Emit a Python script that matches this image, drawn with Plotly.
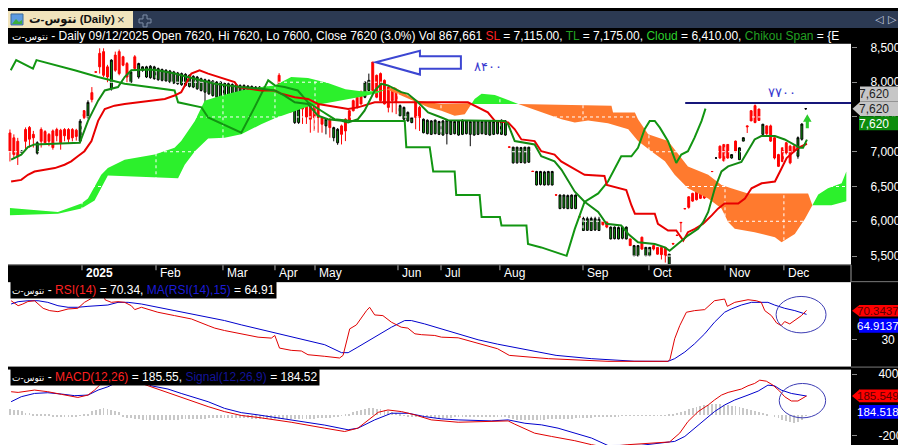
import plotly.graph_objects as go

W, H = 906, 445
FONT = "Liberation Sans, Arial, DejaVu Sans, sans-serif"

# ---------------- daily candles (trading-day index 0..204) ----------------
BAR_INDEX = list(range(205))
OPEN = [
    7270, 7200, 7150, 6990, 7320, 7350, 7250, 6980, 7320, 7290,
    7250, 7300, 7320, 7310, 7320, 7320, 7320, 7310, 7150, 7590,
    7490, 7850, 8150, 8415, 8440, 8221, 7905, 8390, 8440, 8366,
    8269, 8000, 8366, 8075, 8172,
    8075, 8065, 8051, 8036, 8027, 8017, 8002, 7988, 7978, 7964, 7954, 7939, 7930, 7905, 7881, 7857, 7833,
    7808, 7784, 7774, 7760, 7745, 7735, 7726, 7711, 7697, 7697, 7687, 7687, 7677, 7677, 7663, 7663, 7663,
    8099, 7881, 7740, 7881, 7420, 7420, 7784, 7700, 7784, 7711, 7687, 7493, 7372, 7468, 7202, 7129, 7372,
    7468, 7590, 7735, 7784, 7857, 7784, 7881, 8290, 8099, 8124, 8027, 7930, 7881, 7881, 7517, 7468, 7444,
    7420, 7735, 7638,
    7274, 7260, 7250, 7260, 7250, 7240, 7260, 7250, 7260, 7240, 7250, 7260, 7250, 7240, 7250, 7260, 7250,
    7240, 7250, 7260, 7250, 7240,
    7070, 6840, 6840, 6845, 6840, 6850, 6720, 6522, 6530, 6522, 6525, 6522, 6380, 6182, 6190, 6182, 6185,
    6182, 6065, 5867, 5870, 5867, 5875, 5867, 5995, 5989, 5746, 5750, 5746, 5755, 5746,
    5746, 5503, 5503, 5770, 5503, 5503, 5650, 5624, 5624, 5624, 5380, 5680, 5800, 5989, 6182, 6352, 6401,
    6449, 6474, 6474, 6522, 6716, 6910, 7080, 7105, 7105, 6910, 7153, 6886, 7153, 7372, 7590, 7663, 7614,
    7250, 7372, 7372, 7202, 6959, 7056, 7129, 7080, 7080, 6935, 7180, 7620,
]
HIGH = [
    7320, 7250, 7200, 7020, 7350, 7370, 7300, 7150, 7350, 7310,
    7270, 7320, 7345, 7330, 7340, 7340, 7340, 7330, 7470, 7600,
    7740, 7930, 8150, 8488, 8488, 8250, 8330, 8440, 8470, 8380,
    8290, 8160, 8390, 8280, 8230,
    8236, 8245, 8236, 8211, 8197, 8187, 8177, 8163, 8148, 8139, 8129, 8114, 8100, 8090, 8066, 8051, 8042,
    8032, 8017, 8017, 8003, 7993, 7983, 7979, 7969, 7969, 7959, 7954, 7945, 7945, 7935, 7935, 7920, 7920,
    8130, 7900, 7830, 7900, 7660, 7640, 7800, 7750, 7800, 7730, 7700, 7510, 7480, 7480, 7360, 7340, 7390,
    7480, 7600, 7750, 7800, 7880, 8010, 8124, 8290, 8110, 8140, 8040, 7950, 7900, 7900, 7680, 7650, 7580,
    7500, 7750, 7660,
    7478, 7464, 7454, 7464, 7445, 7454, 7464, 7454, 7445, 7454, 7464, 7454, 7445, 7454, 7454, 7445, 7454,
    7454, 7445, 7454, 7464, 7454,
    7075, 7070, 7070, 7070, 7070, 7070, 6725, 6725, 6725, 6725, 6725, 6725, 6385, 6385, 6385, 6385, 6385,
    6385, 6070, 6065, 6065, 6065, 6065, 6065, 6000, 5995, 5925, 5925, 5925, 5925, 5925,
    5750, 5660, 5655, 5780, 5630, 5630, 5660, 5630, 5630, 5630, 5530, 5690, 5810, 5995, 6190, 6360, 6410,
    6460, 6480, 6480, 6530, 6720, 6915, 7090, 7110, 7110, 6965, 7160, 7060, 7205, 7380, 7600, 7680, 7620,
    7400, 7380, 7390, 7210, 6970, 7060, 7140, 7100, 7100, 7220, 7410, 7620,
]
LOW = [
    6860, 6900, 6810, 6990, 7010, 7060, 7060, 6960, 7060, 7100,
    7080, 7030, 7150, 7030, 7150, 7130, 7150, 7160, 7130, 7470,
    7480, 7710, 8140, 8124, 8075, 8000, 7880, 8150, 8100, 8230,
    8000, 7990, 8170, 8050, 8150,
    8060, 8050, 8036, 8021, 8012, 8002, 7987, 7973, 7963, 7949, 7939, 7924, 7915, 7890, 7866, 7687, 7818,
    7793, 7769, 7759, 7745, 7730, 7720, 7590, 7696, 7682, 7682, 7672, 7638, 7662, 7662, 7648, 7648, 7648,
    7760, 7660, 7700, 7560, 7400, 7400, 7400, 7400, 7274, 7299, 7274, 7274, 7250, 7202, 7150, 7100, 7105,
    7153, 7440, 7580, 7620, 7680, 7770, 7870, 7870, 7770, 7720, 7680, 7566, 7566, 7541, 7500, 7450, 7430,
    7410, 7323, 7299,
    7264, 7250, 7240, 7250, 7240, 7230, 7105, 7240, 7250, 7230, 7240, 7250, 7080, 7230, 7240, 7250, 7240,
    7230, 7240, 7250, 7240, 7230,
    7060, 6830, 6830, 6835, 6830, 6840, 6710, 6515, 6515, 6515, 6515, 6515, 6372, 6175, 6175, 6175, 6175,
    6175, 6055, 5860, 5860, 5860, 5860, 5860, 5940, 5900, 5740, 5740, 5740, 5740, 5740,
    5645, 5495, 5495, 5590, 5495, 5500, 5580, 5520, 5450, 5406, 5380, 5670, 5790, 5843, 6175, 6182, 6280,
    6300, 6320, 6320, 6515, 6710, 6905, 6900, 6860, 6900, 6900, 6990, 6880, 7150, 7270, 7440, 7410, 7444,
    7240, 7240, 7140, 6890, 6780, 6850, 6960, 6820, 6990, 6900, 7160, 7600,
]
CLOSE = [
    7010, 6960, 6930, 7010, 7150, 7180, 7200, 7130, 7150, 7130,
    7150, 7060, 7230, 7130, 7230, 7180, 7200, 7220, 7440, 7490,
    7710, 7750, 8145, 8221, 8100, 8075, 8318, 8172, 8124, 8245,
    8075, 8148, 8196, 8269, 8221,
    8221, 8230, 8221, 8196, 8182, 8172, 8162, 8148, 8133, 8124, 8114, 8099, 8085, 8075, 8051, 8036, 8027,
    8017, 8002, 8002, 7988, 7978, 7968, 7964, 7954, 7954, 7944, 7939, 7930, 7930, 7920, 7920, 7905, 7905,
    7833, 7711, 7800, 7687, 7640, 7615, 7614, 7500, 7468, 7493, 7493, 7396, 7468, 7347, 7347, 7323, 7250,
    7299, 7450, 7590, 7638, 7687, 8002, 8027, 7881, 7784, 7735, 7687, 7638, 7735, 7711, 7663, 7638, 7566,
    7493, 7493, 7493,
    7468, 7454, 7444, 7454, 7435, 7444, 7454, 7444, 7435, 7444, 7454, 7444, 7435, 7444, 7444, 7435, 7444,
    7444, 7435, 7444, 7454, 7444,
    7066, 7066, 7066, 7060, 7066, 7066, 6716, 6716, 6716, 6710, 6716, 6716, 6377, 6377, 6377, 6370, 6377,
    6377, 6061, 6040, 6037, 6040, 6037, 6030, 5950, 5916, 5916, 5916, 5910, 5916, 5916,
    5650, 5650, 5650, 5600, 5625, 5625, 5600, 5527, 5520, 5503, 5527, 5673, 5795, 5980, 6180, 6200, 6290,
    6310, 6330, 6335, 6520, 6715, 6910, 6910, 6870, 6910, 6959, 7008, 7056, 7202, 7360, 7444, 7420, 7450,
    7396, 7260, 7153, 6910, 6790, 6860, 6983, 6840, 7008, 7202, 7398, 7620,
]

# ---------------- Ichimoku lines, read at their vertices (bar index, price) ----------------
SL_PTS = [(0.3, 6571), (2.9, 6595), (4.6, 6668), (6.3, 6716), (8.9, 6741), (11.5, 6765), (14, 6813),
          (15.7, 6862), (17.4, 6935), (19.1, 7008), (20.9, 7153), (22.6, 7444), (24.3, 7614), (26.8, 7663),
          (29.4, 7687), (36.2, 7735), (39.7, 7760), (42.2, 7808), (43.9, 7857), (46.5, 8124), (48.6, 8172),
          (50.8, 8124), (57.6, 8002), (58.5, 7930), (64.4, 7881), (67.9, 7881), (69.6, 7833), (73, 7784),
          (76.4, 7760), (79, 7687), (81.5, 7663), (86.7, 7614), (89.2, 7638), (93.5, 7711), (117.4, 7711),
          (120, 7638), (122.5, 7566), (124.3, 7444), (127.7, 7420), (129.4, 7323), (131.1, 7177),
          (134.5, 7153), (136.2, 7008), (139.6, 6959), (141.3, 6862), (147.3, 6668), (152.4, 6650),
          (153, 6522), (158, 6449), (159.3, 6231), (160.2, 6110), (165.3, 6110), (166.1, 5964),
          (168.7, 5867), (170.8, 5867), (172.6, 5721), (173.8, 5843), (175.6, 5891), (177.7, 5964),
          (179.9, 6085), (181.5, 6182), (183.2, 6255), (186.7, 6255), (188.4, 6328), (190.1, 6474),
          (192.7, 6546), (196.1, 6571), (197.4, 6716), (199.1, 6910), (202.1, 7056), (204.3, 7115)]
TL_PTS = [(0.3, 6886), (2.9, 6959), (4.6, 7066), (6.3, 7105), (17.9, 7129), (20, 7444), (22.6, 7735),
          (24.3, 7881), (27.7, 7930), (29.4, 8075), (31.1, 8172), (35.4, 8182), (37.9, 8172), (42.2, 8124),
          (45.6, 8075), (49.1, 8027), (52.5, 7978), (55.9, 7954), (59.3, 7930), (64.4, 7905), (67.9, 7881),
          (70.4, 7808), (73, 7711), (76.4, 7687), (79, 7517), (81.5, 7468), (85, 7444), (86.7, 7420),
          (89.2, 7468), (90.9, 7590), (92.7, 7784), (93.5, 7881), (95.2, 7978), (96.9, 7954), (100.3, 7857),
          (102, 7833), (104.6, 7711), (107.2, 7566), (110.6, 7493), (112.3, 7454), (126.8, 7444),
          (127.7, 7396), (129.4, 7153), (134.5, 7105), (136.2, 6935), (139.6, 6862), (141.4, 6741),
          (144.8, 6425), (147.3, 6280), (150.8, 6134), (152.9, 5964), (156.7, 5940), (158.5, 5818),
          (161, 5697), (165.3, 5673), (167.9, 5624), (169.1, 5576), (171.3, 5673), (173.8, 5794),
          (176.4, 5891), (177.7, 5988), (179, 6134), (180.7, 6474), (182.4, 6716), (184.1, 6789),
          (187.5, 6852), (189.2, 7008), (190.9, 7177), (192.6, 7226), (196.1, 7226), (198.6, 7177),
          (200.3, 7129), (202.5, 7056), (203.3, 7056), (204.3, 7175)]
CHIKOU_PTS = [(0.2, 8172), (1.6, 8318), (5.9, 8196), (6.8, 8318), (16.6, 8172), (22.6, 8075), (29.4, 7978),
              (35.4, 7930), (42.2, 7881), (43.1, 7711), (49.1, 7638), (50.8, 7493), (59.3, 7274),
              (62.7, 7638), (66.2, 8027), (67.9, 7954), (70.4, 7930), (73.8, 7881), (76.4, 7711),
              (79.8, 7590), (83.2, 7468), (87.5, 7444), (101.2, 7444), (101.6, 7066), (107.6, 7066),
              (108.5, 6716), (114, 6716), (114.4, 6377), (120.4, 6377), (120.9, 6061), (125.6, 6061),
              (126, 5940), (132.4, 5940), (132.8, 5673), (136.2, 5624), (142.7, 5503), (144.8, 5891),
              (147.3, 6280), (150.8, 6401), (153.3, 6571), (156.7, 6935), (159.3, 6935), (161, 7056),
              (162.7, 7323), (164, 7444), (165.3, 7444), (166.6, 7347), (168.7, 7153), (170.8, 6838),
              (172.1, 6959), (173.8, 7008), (175.5, 7202), (177.3, 7444), (178.3, 7620)]

# cloud (senkou spans) segments: upper edge / lower edge
CLOUD_G1_TOP = [(0, 6192), (12.3, 6134), (18.3, 6255), (20, 6328), (23.4, 6668), (25.1, 6765), (29.4, 6886),
                (37.1, 6959), (42.2, 7056), (43.9, 7153), (47.4, 7444), (49.9, 7735), (54.2, 7808),
                (59.3, 7881), (64.4, 7930), (67.9, 7954), (72.1, 8075), (76.4, 8060), (81.5, 7990),
                (86, 7900), (90, 7870), (94, 7870), (96.5, 7900)]
CLOUD_G1_BOT = [(0, 6085), (12.3, 6110), (18.3, 6182), (21.7, 6300), (25.1, 6658), (37.1, 6629),
                (43.1, 6619), (44.8, 6813), (47.4, 7008), (50.8, 7192), (55, 7202), (59.3, 7250),
                (64.4, 7396), (67.9, 7483), (72.1, 7566), (76.4, 7650), (80, 7680), (85, 7740), (90, 7790),
                (94, 7840), (96.5, 7900)]
CLOUD_O1_TOP = [(96.5, 7900), (98.6, 7930), (102, 7808), (104.6, 7735), (110.6, 7687), (117.4, 7697),
                (118.3, 7687)]
CLOUD_O1_BOT = [(96.5, 7900), (100.3, 7810), (104.6, 7700), (107.2, 7640), (110.6, 7590), (114, 7517),
                (116.6, 7541), (118.3, 7687)]
CLOUD_G2_TOP = [(118.3, 7687), (119.1, 7760), (120.9, 7833), (124.3, 7818), (127.7, 7745), (130.3, 7687)]
CLOUD_G2_BOT = [(118.3, 7687), (130.3, 7687)]
CLOUD_O2_TOP = [(130.3, 7687), (154.2, 7663), (154.6, 7566), (160.2, 7566), (161, 7468), (163.6, 7250),
                (168.7, 7153), (171.3, 6959), (173.8, 6789), (179, 6668), (182.4, 6522), (184.9, 6474),
                (189.2, 6401), (204.6, 6401), (205.7, 6231)]
CLOUD_O2_BOT = [(130.3, 7687), (136.2, 7566), (141.4, 7468), (144.8, 7420), (148.2, 7450), (153.3, 7410),
                (158.5, 7323), (161, 7153), (164.4, 7008), (167.9, 6862), (170.4, 6668), (173.8, 6474),
                (179, 6328), (182.4, 6182), (184.1, 5988), (185.8, 5891), (190.9, 5843), (196.1, 5770),
                (197.8, 5697), (201.2, 5818), (203.8, 6037), (205.7, 6231)]
CLOUD_G3_TOP = [(205.7, 6231), (207.2, 6386), (209.7, 6474), (213.2, 6546), (214.4, 6716)]
CLOUD_G3_BOT = [(205.7, 6231), (210.6, 6231), (214.4, 6289)]

# ---------------- RSI(14) and MA(RSI,15) ----------------
RSI_PTS = [(0.3, 83.6), (2.1, 76.8), (3.3, 79.1), (4.6, 82.5), (6.3, 83.6), (7.6, 77.7), (8.5, 73.2),
           (10.2, 70), (12.3, 68.6), (14.9, 72.3), (17.4, 73.2), (19.1, 81.4), (20.9, 86.8), (22.6, 99),
           (23.8, 95), (24.4, 84.8), (26, 81.4), (27.7, 82.3), (29.4, 81.4), (31.1, 76.8), (32, 71.4),
           (33.7, 74.6), (37.9, 67.8), (42.2, 63.2), (46.5, 58.6), (50.8, 49.5), (52.5, 46), (55, 42.7),
           (59.3, 38.2), (63.6, 33.6), (67, 32.3), (67.9, 35.9), (69.1, 18.6), (72.1, 15.5), (74.7, 14.6),
           (76.4, 9.5), (80.7, 7.3), (84.5, 5), (85.4, 8.6), (87.1, 45), (88.8, 50.4), (90.1, 61),
           (91.4, 70), (92.2, 74.6), (93.5, 64.1), (95.6, 63.2), (97.8, 54.1), (100.3, 47.3), (102, 46),
           (103.8, 38.2), (105.5, 37), (108.9, 35.9), (110.6, 33.6), (114.9, 32.7), (120, 25), (125, 17.7),
           (128, 8.6), (138, 4.1), (153.3, 0.4), (168.7, 0.4), (169.2, 3.3), (170.4, 31.4), (171.7, 49.5),
           (173.4, 67.8), (175.5, 70), (178.1, 71.4), (180.6, 83.6), (183.2, 85.9), (183.9, 75.9),
           (185.8, 81.4), (189.2, 85), (191.3, 83.6), (192.6, 81.4), (193.5, 70), (195.2, 63.2),
           (196.5, 53.2), (197.7, 49.5), (198.6, 55), (199.9, 51.8), (201.6, 58.6), (202.9, 63.2),
           (204.2, 70.34)]
RSI_MA_PTS = [(0.3, 79.1), (2.1, 82.3), (4.6, 83.6), (7.2, 83.6), (9.7, 81.4), (12.3, 76.8), (14.9, 74.6),
              (17.4, 74.6), (20, 75.9), (22.6, 76.8), (25.1, 77.7), (27.7, 81.4), (30.3, 81.4), (33.7, 79.1),
              (37.9, 74.6), (42.2, 70), (46.5, 65.5), (50.8, 61), (55, 56.4), (59.3, 50.5), (63.6, 45),
              (67, 40.5), (67.9, 39.6), (72.1, 33.6), (76.4, 29.1), (80.7, 23.2), (85, 12.3), (86.7, 12.3),
              (89.2, 20), (93.5, 33.6), (97.8, 47.3), (101.2, 56.4), (102.9, 56.4), (106.3, 51.8),
              (110.6, 45), (114.9, 38.2), (120, 30), (125, 24), (133, 15.4), (140, 8.6), (149, 4.1),
              (160, 0.6), (168.7, 0.4), (170.4, 4.1), (173, 13.2), (175.5, 24.5), (178.1, 38.2),
              (180.6, 54.1), (183.2, 67.8), (184.9, 72.3), (187.5, 77.7), (190.1, 81.4), (194.3, 81.4),
              (196, 77.7), (198.6, 73.2), (201.2, 70), (204.2, 64.91)]

# ---------------- MACD(12,26), Signal(12,26,9), histogram ----------------
MACD_PTS = [(0.3, 227), (2.1, 220), (6.3, 243), (9.7, 227), (13.2, 201), (17.4, 171), (20, 194),
            (21.7, 243), (23, 292), (24.3, 356), (27, 420), (31, 415), (33.7, 308), (35.4, 285),
            (38.8, 243), (42.2, 194), (46.5, 136), (50.8, 81), (55, 32), (59.3, -6), (63.6, -25),
            (72.1, -72), (80.7, -130), (85.8, -163), (89.2, -130), (91.8, -49), (94.4, 25), (96.9, 48),
            (100.4, 32), (103.8, 0), (108, -49), (114.9, -72), (121.7, -66), (127.7, -59), (129.4, -91),
            (134.5, -179), (138.8, -211), (144.8, -253), (149.1, -292), (152.5, -315), (158.4, -292),
            (163.6, -282), (169.1, -265), (171.7, -178), (173.8, -65), (176.4, 32), (179, 97), (180.6, 146),
            (182.4, 194), (184.1, 220), (185.8, 233), (187.5, 253), (189.2, 285), (190.9, 308), (192.2, 340),
            (193.9, 330), (195.6, 291), (197.3, 233), (198.6, 178), (200.3, 136), (202, 136), (204.2, 185.55)]
SIGNAL_PTS = [(0.3, 129), (2.9, 178), (6.3, 210), (9.7, 217), (13.2, 204), (16.6, 188), (20, 194),
              (22.6, 243), (25.1, 275), (27.7, 324), (31, 360), (34, 330), (36.2, 285), (40.5, 253),
              (43.9, 210), (47.4, 168), (50.8, 129), (55, 64), (59.3, 22), (63.6, 0), (72.1, -49),
              (80.7, -100), (86.7, -146), (89.2, -130), (93.5, -49), (97.8, 16), (102.1, 16), (106.3, -17),
              (110.6, -39), (114.9, -49), (123.4, -59), (127.7, -49), (132, -82), (136.3, -98), (140.5, -130),
              (144.8, -179), (149.1, -227), (153.3, -300), (161.8, -298), (169.1, -265), (170.4, -260),
              (173, -211), (175.5, -130), (178.1, -49), (180.6, 32), (183.2, 97), (185.8, 146), (189.2, 194),
              (191.8, 233), (194.3, 291), (196, 285), (197.7, 243), (200.3, 210), (204.2, 184.52)]
HIST = [
    60, 55, 50, 45,
    25, 20, 15, 15, 10, 10, 5,
    -10, -15, -15, -20, -20, -15, -10, -5, 5, 15,
    40, 55, 65, 70, 65, 55, 45, 35,
    -20, -25, -30, -35, -40, -45, -45, -50, -50, -50, -50, -50, -45, -45, -45, -40, -40, -40, -40, -35, -35,
    -35, -30, -30, -30, -25,
    -25, -25, -25, -30, -30, -30, -30, -35, -35, -35, -35, -35, -40, -40, -40, -40, -40, -40, -40, -40, -35,
    -35, -35, -35, -30, -30, -30, -25, -20, -15, -5, 5, 15,
    30, 45, 55, 65, 70, 70, 65, 60, 50, 40, 30, 20, 10,
    -5, -10, -15, -15, -20, -20, -20, -25, -25, -25, -25, -25, -25, -20, -20, -20, -20, -20, -15, -15,
    -15, -15, -10, -10, -10, -15, -20, -30,
    -40, -45, -45, -50, -50, -50, -45, -45, -45, -40, -40, -40, -40, -35, -35, -35, -30, -30, -30, -25,
    -25, -20, -20, -15, -15, -10, -10,
    -8, -6, -5, -5, -5, -5, -5, -5, -5, -5, -5, -5, -5, 5, 10,
    20, 30, 45, 60, 75, 85, 95, 100, 105, 110, 110, 110, 105, 100,
    95, 90, 80, 70, 60, 50, 40, 30, 20, 10, 0, -10,
    -30, -45, -60, -70, -75, -70, -50, 1,
]

# ---------------- axes / ticks ----------------
MONTH_TICKS = [18.47, 37.44, 54.61, 67.94, 78.2, 99.47, 110.5, 125.6, 146.9, 163.8, 183.3, 198.4]
MONTH_LABELS = ["2025", "Feb", "Mar", "Apr", "May", "Jun", "Jul", "Aug", "Sep", "Oct", "Nov", "Dec"]
PRICE_TICKS = [5500, 6000, 6500, 7000, 7500, 8000, 8500]
RSI_TICKS = [30]
MACD_TICKS = [-200, 400]
MACD_TICKTEXT = ["-200", "400"]

X_RANGE = [-0.5, 215.6]
Y_RANGE = [5381.4, 8552.9]
RSI_RANGE = [-6.8, 109.1]
MACD_RANGE = [-373.3, 443.8]

TARGET_PRICE = 7700


def px(x):
    return x / W


def py(y):
    return 1 - y / H


def xs(pts):
    return [p[0] for p in pts]


def ys(pts):
    return [p[1] for p in pts]


fig = go.Figure()

GREEN_CLOUD = "#2cf02c"
ORANGE_CLOUD = "#ff7a2e"
for top, bot, col in [(CLOUD_G1_TOP, CLOUD_G1_BOT, GREEN_CLOUD), (CLOUD_O1_TOP, CLOUD_O1_BOT, ORANGE_CLOUD),
                      (CLOUD_G2_TOP, CLOUD_G2_BOT, GREEN_CLOUD), (CLOUD_O2_TOP, CLOUD_O2_BOT, ORANGE_CLOUD),
                      (CLOUD_G3_TOP, CLOUD_G3_BOT, GREEN_CLOUD)]:
    fig.add_trace(go.Scatter(x=xs(top) + xs(bot)[::-1], y=ys(top) + ys(bot)[::-1], mode="lines",
                             fill="toself", fillcolor=col, line=dict(width=0), hoverinfo="skip"))

# dotted white grid (only visible over the cloud)
gx, gy = [], []
for t in PRICE_TICKS:
    gx += [X_RANGE[0], X_RANGE[1], None]
    gy += [t, t, None]
for m in MONTH_TICKS:
    gx += [m, m, None]
    gy += [Y_RANGE[0], Y_RANGE[1], None]
fig.add_trace(go.Scatter(x=gx, y=gy, mode="lines", line=dict(color="white", width=1, dash="dot"),
                         hoverinfo="skip"))

fig.add_trace(go.Candlestick(
    x=BAR_INDEX, open=OPEN, high=HIGH, low=LOW, close=CLOSE,
    increasing=dict(line=dict(color="#000000", width=1), fillcolor="#0c9c0c"),
    decreasing=dict(line=dict(color="#ff0000", width=1), fillcolor="#ff0000"),
    whiskerwidth=0, hoverinfo="skip"))

fig.add_trace(go.Scatter(x=xs(CHIKOU_PTS), y=ys(CHIKOU_PTS), mode="lines",
                         line=dict(color="#129612", width=2), hoverinfo="skip"))
fig.add_trace(go.Scatter(x=xs(SL_PTS), y=ys(SL_PTS), mode="lines",
                         line=dict(color="#e80000", width=2), hoverinfo="skip"))
fig.add_trace(go.Scatter(x=xs(TL_PTS), y=ys(TL_PTS), mode="lines",
                         line=dict(color="#138a13", width=2), hoverinfo="skip"))

# RSI panel
fig.add_trace(go.Scatter(x=xs(RSI_MA_PTS), y=ys(RSI_MA_PTS), xaxis="x2", yaxis="y2", mode="lines",
                         line=dict(color="#0000cc", width=1), hoverinfo="skip"))
fig.add_trace(go.Scatter(x=xs(RSI_PTS), y=ys(RSI_PTS), xaxis="x2", yaxis="y2", mode="lines",
                         line=dict(color="#e00000", width=1), hoverinfo="skip"))

# MACD panel
fig.add_trace(go.Bar(x=BAR_INDEX, y=HIST, xaxis="x3", yaxis="y3", width=0.22,
                     marker=dict(color="#c8c8c8", line=dict(width=0)), hoverinfo="skip"))
fig.add_trace(go.Scatter(x=xs(SIGNAL_PTS), y=ys(SIGNAL_PTS), xaxis="x3", yaxis="y3", mode="lines",
                         line=dict(color="#0000cc", width=1), hoverinfo="skip"))
fig.add_trace(go.Scatter(x=xs(MACD_PTS), y=ys(MACD_PTS), xaxis="x3", yaxis="y3", mode="lines",
                         line=dict(color="#e00000", width=1), hoverinfo="skip"))

PLOT_RIGHT = 843 / W
xcommon = dict(range=X_RANGE, domain=[0, PLOT_RIGHT], showticklabels=False, showgrid=False,
               zeroline=False, showline=False, ticks="", fixedrange=True)
ycommon = dict(side="right", showgrid=False, zeroline=False, showline=False, ticks="outside", ticklen=5,
               tickcolor="#8c8c8c", tickfont=dict(color="white", size=12, family=FONT), fixedrange=True)

shapes = []
annotations = []

# tab bar
shapes.append(dict(type="rect", xref="paper", yref="paper", x0=0, x1=1, y0=py(17), y1=1,
                   fillcolor="#2c3a53", line=dict(width=0), layer="above"))
shapes.append(dict(type="rect", xref="paper", yref="paper", x0=0, x1=px(125), y0=py(17), y1=1,
                   fillcolor="#f1e4bc", line=dict(width=0), layer="above"))
shapes.append(dict(type="rect", xref="paper", yref="paper", x0=px(3), x1=px(15), y0=py(14), y1=py(3),
                   fillcolor="#5d9be0", line=dict(color="#3a6a9a", width=1), layer="above"))
shapes.append(dict(type="path", xref="paper", yref="paper", layer="above",
                   path=f"M {px(4)},{py(13)} L {px(8)},{py(8)} L {px(11)},{py(11)} L {px(14)},{py(9)} "
                        f"L {px(14)},{py(13)} Z", fillcolor="#3cae3c", line=dict(width=0)))
pp = [(135, 4), (139, 4), (139, 8), (143, 8), (143, 12), (139, 12), (139, 16), (135, 16), (135, 12),
      (131, 12), (131, 8), (135, 8)]
shapes.append(dict(type="path", xref="paper", yref="paper", layer="above",
                   path="M " + " L ".join(f"{px(a)},{py(b)}" for a, b in pp) + " Z",
                   line=dict(color="#7f8fa8", width=1)))
annotations.append(dict(xref="paper", yref="paper", x=px(19), y=py(9), xanchor="left", yanchor="middle",
                        text="<b>نتوس-ت (Daily)</b>", showarrow=False,
                        font=dict(size=11.5, color="#111111", family=FONT)))
annotations.append(dict(xref="paper", yref="paper", x=px(113), y=py(9), xanchor="center", yanchor="middle",
                        text="×", showarrow=False, font=dict(size=13, color="#333333", family=FONT)))
for xx, ch in [(871, "◁"), (884, "▷"), (897, "▾")]:
    annotations.append(dict(xref="paper", yref="paper", x=px(xx), y=py(9), xanchor="center",
                            yanchor="middle", text=ch, showarrow=False,
                            font=dict(size=11, color="#c9d1e0", family="DejaVu Sans")))

# header line of the price panel
annotations.append(dict(
    xref="paper", yref="paper", x=px(2), y=py(25), xanchor="left", yanchor="middle", showarrow=False,
    font=dict(size=12, color="white", family=FONT),
    text='<span style="font-size:10px">نتوس-ت</span> - Daily 09/12/2025 Open 7620, Hi 7620, Lo 7600, '
         'Close 7620 (3.0%) Vol 867,661 <span style="color:#ff2020">SL</span> = 7,115.00, '
         '<span style="color:#22a022">TL</span> = 7,175.00, <span style="color:#2ccf2c">Cloud</span> = '
         '6,410.00, <span style="color:#22a022">Chikou Span</span> = {E'))

# month bar
shapes.append(dict(type="line", xref="paper", yref="paper", x0=0, x1=PLOT_RIGHT, y0=py(255.5), y1=py(255.5),
                   line=dict(color="#9a9a9a", width=1)))
shapes.append(dict(type="line", xref="paper", yref="paper", x0=PLOT_RIGHT, x1=PLOT_RIGHT, y0=py(273),
                   y1=py(255.5), line=dict(color="#9a9a9a", width=1)))
shapes.append(dict(type="line", xref="paper", yref="paper", x0=PLOT_RIGHT, x1=1, y0=py(272.5), y1=py(272.5),
                   line=dict(color="#7a7a7a", width=1)))
shapes.append(dict(type="line", xref="paper", yref="paper", x0=PLOT_RIGHT, x1=1, y0=py(358.5), y1=py(358.5),
                   line=dict(color="#7a7a7a", width=1)))
for t, lab in zip(MONTH_TICKS, MONTH_LABELS):
    shapes.append(dict(type="line", xref="x", yref="paper", x0=t, x1=t, y0=py(261), y1=py(256),
                       line=dict(color="#b0b0b0", width=1)))
    annotations.append(dict(xref="x", yref="paper", x=t + 0.5, y=py(264), xanchor="left", yanchor="middle",
                            showarrow=False, text=f"<b>{lab}</b>" if lab == "2025" else lab,
                            font=dict(size=12, color="white", family=FONT)))

# drawings on the price panel
shapes.append(dict(type="line", xref="x", yref="y", x0=173.1, x1=X_RANGE[1], y0=TARGET_PRICE,
                   y1=TARGET_PRICE, line=dict(color="#16167a", width=2)))
annotations.append(dict(xref="x", yref="y", x=198, y=7853, text="۷۷۰۰", showarrow=False,
                        font=dict(size=13, color="#3a3ad0", family="DejaVu Sans")))
annotations.append(dict(xref="x", yref="y", x=122.6, y=8225, text="۸۴۰۰", showarrow=False,
                        font=dict(size=13, color="#3a3ad0", family="DejaVu Sans")))
arrow = [(93.8, 8286), (105.1, 8453), (105.1, 8372), (115.6, 8372), (115.6, 8192), (105.1, 8192),
         (105.1, 8110)]
shapes.append(dict(type="path", xref="x", yref="y",
                   path="M " + " L ".join(f"{a},{b}" for a, b in arrow) + " Z",
                   line=dict(color="#3c46d2", width=2)))
garrow = [(204.4, 7540), (205.5, 7430), (204.8, 7430), (204.8, 7337), (204.0, 7337), (204.0, 7430),
          (203.3, 7430)]
shapes.append(dict(type="path", xref="x", yref="y",
                   path="M " + " L ".join(f"{a},{b}" for a, b in garrow) + " Z",
                   fillcolor="#2ccc2c", line=dict(width=0)))

# circles on the indicators
shapes.append(dict(type="circle", xref="x2", yref="y2", x0=196.4, x1=209.2, y0=39.5, y1=89.5,
                   line=dict(color="#3c3cb4", width=1)))
shapes.append(dict(type="circle", xref="x3", yref="y3", x0=197.2, x1=209.1, y0=-29, y1=307.6,
                   line=dict(color="#3c3cb4", width=1)))


def value_box(ytop, ybot, text, bg, fg, left, right, text_right, size=12, arrow_tip=None):
    shapes.append(dict(type="rect", xref="paper", yref="paper", layer="above", x0=px(left), x1=px(right),
                       y0=py(ybot), y1=py(ytop), fillcolor=bg, line=dict(width=0)))
    if arrow_tip is not None:
        shapes.append(dict(type="path", xref="paper", yref="paper", layer="above",
                           path=f"M {px(left + 0.5)},{py(ytop)} L {px(left + 0.5)},{py(ybot)} "
                                f"L {px(arrow_tip)},{py((ytop + ybot) / 2)} Z",
                           fillcolor=bg, line=dict(width=0)))
    annotations.append(dict(xref="paper", yref="paper", x=px(text_right), y=py((ytop + ybot) / 2 + 0.5),
                            xanchor="right", yanchor="middle", text=text, showarrow=False,
                            font=dict(size=size, color=fg, family=FONT)))


# last price labels (text anchor compensates the renderer's right-edge offset)
value_box(76, 91, "7,620", "#c6c6c6", "#1e1e1e", 852, 890, 883)
value_box(91, 105.7, "7,620", "#c6c6c6", "#1e1e1e", 852, 890, 883, arrow_tip=844.5)
value_box(106, 120, "7,620", "#0c8c0c", "white", 851, 890, 883)

# RSI header & labels
annotations.append(dict(xref="paper", yref="paper", x=px(2), y=py(281), xanchor="left", yanchor="middle",
                        showarrow=False, bgcolor="black", borderpad=1,
                        font=dict(size=12, color="white", family=FONT),
                        text='<span style="font-size:9px">نتوس-ت</span> - <span style="color:#ff2020">RSI(14)</span>'
                             ' = 70.34, <span style="color:#1c1cd8">MA(RSI(14),15)</span> = 64.91'))
value_box(296, 307.5, "70.3437", "#ff0000", "#5a0000", 851, 904, 893, size=11.5, arrow_tip=844)
value_box(309.5, 324, "64.9137", "#0000ff", "white", 851, 904, 893, size=11.5)

# MACD header & labels
annotations.append(dict(xref="paper", yref="paper", x=px(2), y=py(368), xanchor="left", yanchor="middle",
                        showarrow=False, bgcolor="black", borderpad=1,
                        font=dict(size=12, color="white", family=FONT),
                        text='<span style="font-size:9px">نتوس-ت</span> - <span style="color:#ff2020">MACD(12,26)</span>'
                             ' = 185.55, <span style="color:#14149a">Signal(12,26,9)</span> = 184.52'))
value_box(381, 394, "185.549", "#ff0000", "#5a0000", 851, 904, 893, size=11.5, arrow_tip=844)
value_box(396.7, 410.5, "184.518", "#0000ff", "white", 851, 904, 893, size=11.5)

fig.update_layout(
    width=W, height=H, margin=dict(l=0, r=0, t=0, b=0),
    paper_bgcolor="black", plot_bgcolor="white", showlegend=False, hovermode=False,
    xaxis=dict(**xcommon, anchor="y", rangeslider=dict(visible=False)),
    xaxis2=dict(**xcommon, anchor="y2", matches="x"),
    xaxis3=dict(**xcommon, anchor="y3", matches="x"),
    yaxis=dict(**ycommon, domain=[py(255), py(33)], range=Y_RANGE, anchor="x", tickvals=PRICE_TICKS,
               tickformat=",", ticklabelstandoff=11),
    yaxis2=dict(**ycommon, domain=[py(358), py(273)], range=RSI_RANGE, anchor="x2", tickvals=RSI_TICKS,
                ticklabelstandoff=22),
    yaxis3=dict(**ycommon, domain=[0, py(361)], range=MACD_RANGE, anchor="x3", tickvals=MACD_TICKS,
                ticktext=MACD_TICKTEXT, ticklabelstandoff=19),
    shapes=shapes, annotations=annotations, bargap=0,
)

fig.write_html("out.html")
